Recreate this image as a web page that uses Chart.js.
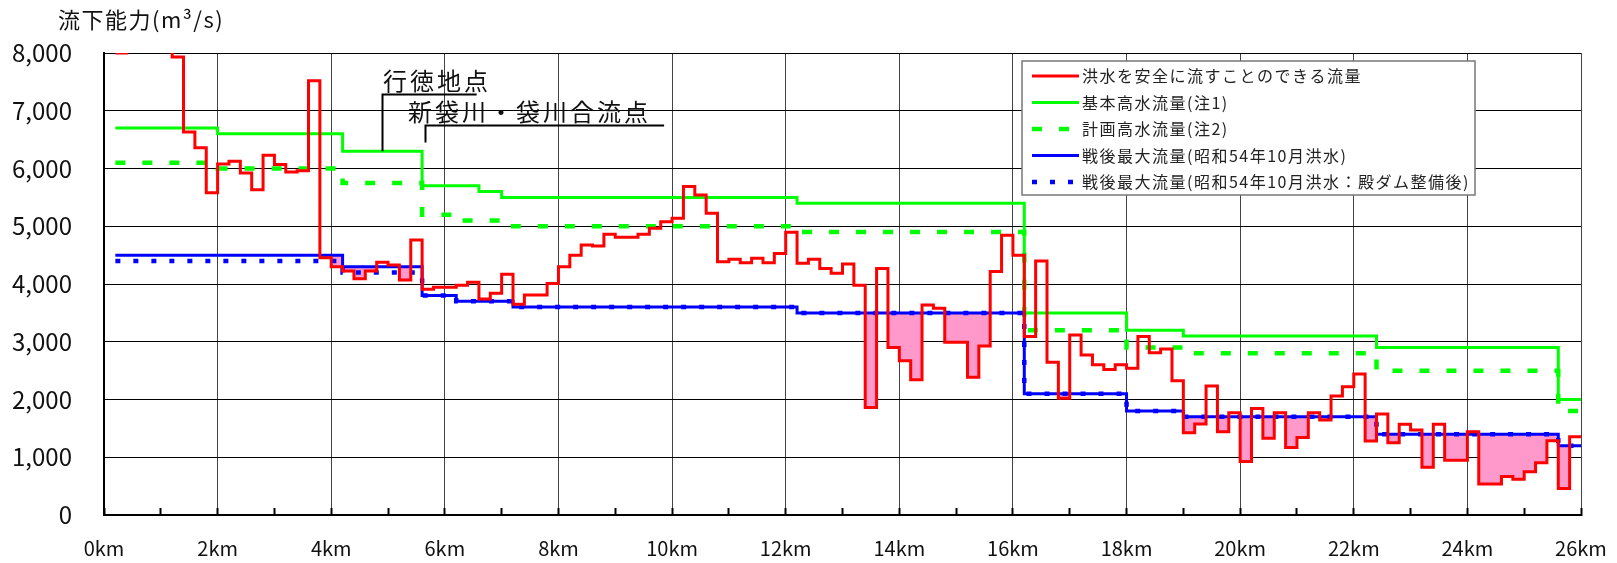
<!DOCTYPE html>
<html lang="ja">
<head>
<meta charset="utf-8">
<title>流下能力</title>
<script src="https://cdn.jsdelivr.net/npm/chart.js@4.4.1/dist/chart.umd.min.js"></script>
<style>
  html, body { margin: 0; padding: 0; background: #fff; }
  #chart { display: block; }
</style>
</head>
<body>
<canvas id="chart" width="1617" height="563"></canvas>
<script>
// 各区間の起点(km)とその区間の流量(m3/s)。最後の点は終点26km
const safeKm = [0.2, 0.4, 1.2, 1.4, 1.6, 1.8, 2.0, 2.2, 2.4, 2.6, 2.8, 3.0, 3.2, 3.4, 3.6, 3.8,
  4.0, 4.2, 4.4, 4.6, 4.8, 5.0, 5.2, 5.4, 5.6, 5.8, 6.2, 6.4, 6.6, 6.8, 7.0, 7.2, 7.4, 7.8,
  8.0, 8.2, 8.4, 8.6, 8.8, 9.0, 9.4, 9.6, 9.8, 10.0, 10.2, 10.4, 10.6, 10.8, 11.0, 11.2, 11.4,
  11.6, 11.8, 12.0, 12.2, 12.4, 12.6, 12.8, 13.0, 13.2, 13.4, 13.6, 13.8, 14.0, 14.2, 14.4,
  14.6, 14.8, 15.2, 15.4, 15.6, 15.8, 16.0, 16.2, 16.4, 16.6, 16.8, 17.0, 17.2, 17.4, 17.6,
  17.8, 18.0, 18.2, 18.4, 18.6, 18.8, 19.0, 19.2, 19.4, 19.6, 19.8, 20.0, 20.2, 20.4, 20.6,
  20.8, 21.0, 21.2, 21.4, 21.6, 21.8, 22.0, 22.2, 22.4, 22.6, 22.8, 23.0, 23.2, 23.4, 23.6,
  24.0, 24.2, 24.6, 24.8, 25.0, 25.2, 25.4, 25.6, 25.8, 26.0];
const safeFlow = [8000, 9000, 7930, 6630, 6360, 5580, 6080, 6125, 5920, 5630, 6230, 6070, 5940, 5960, 7520, 4455,
  4300, 4225, 4090, 4225, 4375, 4330, 4070, 4760, 3910, 3945, 3980, 4030, 3740, 3840, 4170, 3650, 3810, 4010,
  4300, 4500, 4675, 4660, 4860, 4810, 4860, 4965, 5080, 5140, 5690, 5540, 5225, 4385, 4430, 4370, 4445,
  4370, 4530, 4895, 4360, 4430, 4270, 4185, 4345, 3980, 1860, 4270, 2900, 2670, 2340, 3635,
  3580, 2990, 2385, 2925, 4215, 4845, 4500, 3090, 4400, 2645, 2020, 3115, 2770, 2600, 2520,
  2600, 2540, 3090, 2810, 2875, 2325, 1425, 1575, 2235, 1440, 1770, 925, 1845, 1330, 1770,
  1170, 1340, 1770, 1645, 2060, 2220, 2440, 1280, 1750, 1250, 1570, 1470, 825, 1570, 950,
  1440, 535, 665, 620, 750, 905, 1285, 460, 1355, 1355];

const basicKm = [0.2, 2.0, 4.2, 5.6, 6.6, 7.0, 12.2, 16.2, 18.0, 19.0, 22.4, 25.6, 26.0];
const basicFlow = [6700, 6600, 6300, 5700, 5600, 5500, 5400, 3500, 3200, 3100, 2900, 2000, 2000];

const planKm = [0.2, 2.0, 4.2, 5.6, 6.2, 7.2, 12.2, 16.2, 18.0, 19.0, 22.4, 25.6, 26.0];
const planFlow = [6100, 6000, 5750, 5200, 5100, 5000, 4900, 3200, 2900, 2800, 2500, 1800, 1800];

const maxKm = [0.2, 4.2, 5.6, 6.2, 7.2, 12.2, 16.2, 18.0, 19.0, 22.4, 25.6, 26.0];
const maxFlow = [4500, 4300, 3800, 3700, 3600, 3500, 2100, 1800, 1700, 1400, 1200, 1200];

const damKm = [0.2, 4.2, 5.6, 6.2, 7.2, 12.2, 16.2, 18.0, 19.0, 22.4, 25.6, 26.0];
const damFlow = [4400, 4200, 3800, 3700, 3600, 3500, 2100, 1800, 1700, 1400, 1200, 1200];

const seriesNames = [
  '洪水を安全に流すことのできる流量',
  '基本高水流量(注1)',
  '計画高水流量(注2)',
  '戦後最大流量(昭和54年10月洪水)',
  '戦後最大流量(昭和54年10月洪水：殿ダム整備後)'
];

const yTitle = '流下能力(m³/s)';
// 1kmごとの目盛り、ラベルは2kmごと
const kmTicks = Array.from({ length: 27 }, (_, i) => i);

// 地点名の注記 (引出線の位置はkmと流量で指定)
const markNames = ['行徳地点', '新袋川・袋川合流点'];
const markKm = [4.89, 5.65];
const markTextKm = [4.91, 5.35];
const markLineEndKm = [6.56, 9.86];
const markTop = [7285, 6750];
const markFoot = [6300, 6450];

const FONT = '"Noto Sans CJK JP", "Noto Sans", sans-serif';
Chart.defaults.font.family = FONT;
Chart.defaults.color = '#111';

const steps = (km, flow) => km.map((x, i) => ({ x, y: flow[i] }));

const overlay = {
  id: 'overlay',
  afterDraw(chart) {
    const { ctx, chartArea, scales: { x, y } } = chart;
    ctx.save();

    // 縦軸タイトル
    ctx.font = '22px ' + FONT;
    ctx.letterSpacing = '1.5px';
    ctx.fillStyle = '#111';
    ctx.textBaseline = 'middle';
    ctx.textAlign = 'left';
    ctx.fillText(yTitle, chartArea.left - 46, chartArea.top - 33);

    // 地点の注記
    ctx.font = '24px ' + FONT;
    ctx.letterSpacing = '3px';
    ctx.strokeStyle = '#000';
    ctx.lineWidth = 2;
    markNames.forEach((name, i) => {
      const px = Math.round(x.getPixelForValue(markKm[i])) + 0.5;
      const top = Math.round(y.getPixelForValue(markTop[i])) + 0.5;
      const foot = y.getPixelForValue(markFoot[i]);
      ctx.beginPath();
      ctx.moveTo(px, foot);
      ctx.lineTo(px, top);
      ctx.lineTo(x.getPixelForValue(markLineEndKm[i]), top);
      ctx.stroke();
      ctx.fillText(name, x.getPixelForValue(markTextKm[i]), top - 14);
    });

    // 凡例
    const box = { left: chartArea.right - 559, top: chartArea.top + 8, width: 453, height: 134 };
    ctx.fillStyle = '#fff';
    ctx.fillRect(box.left, box.top, box.width, box.height);
    ctx.strokeStyle = '#777';
    ctx.lineWidth = 1.5;
    ctx.strokeRect(box.left, box.top, box.width, box.height);
    ctx.font = '16px ' + FONT;
    ctx.letterSpacing = '1.5px';
    chart.data.datasets.forEach((ds, i) => {
      const cy = box.top + 15 + i * 26.5;
      ctx.beginPath();
      ctx.setLineDash(ds.borderDash || []);
      ctx.strokeStyle = ds.borderColor;
      ctx.lineWidth = ds.borderWidth;
      ctx.moveTo(box.left + 10, cy);
      ctx.lineTo(box.left + 57, cy);
      ctx.stroke();
      ctx.setLineDash([]);
      ctx.fillStyle = '#222';
      ctx.fillText(ds.label, box.left + 60, cy);
    });

    ctx.restore();
  }
};

new Chart(document.getElementById('chart'), {
  type: 'line',
  data: {
    datasets: [
      {
        label: seriesNames[0],
        data: steps(safeKm, safeFlow),
        borderColor: '#ff0000',
        borderWidth: 3,
        stepped: true,
        pointRadius: 0,
        order: 0,
        fill: { target: 3, above: 'rgba(0,0,0,0)', below: '#ff99cc' }
      },
      {
        label: seriesNames[1],
        data: steps(basicKm, basicFlow),
        borderColor: '#00ff00',
        borderWidth: 3,
        stepped: true,
        pointRadius: 0,
        order: 4,
        fill: false
      },
      {
        label: seriesNames[2],
        data: steps(planKm, planFlow),
        borderColor: '#00ff00',
        borderWidth: 4.5,
        borderDash: [10, 17],
        stepped: true,
        pointRadius: 0,
        order: 3,
        fill: false
      },
      {
        label: seriesNames[3],
        data: steps(maxKm, maxFlow),
        borderColor: '#0000ff',
        borderWidth: 3,
        stepped: true,
        pointRadius: 0,
        order: 2,
        fill: false
      },
      {
        label: seriesNames[4],
        data: steps(damKm, damFlow),
        borderColor: '#0000ff',
        borderWidth: 4.5,
        borderDash: [5, 13],
        stepped: true,
        pointRadius: 0,
        order: 1,
        fill: false
      }
    ]
  },
  options: {
    responsive: false,
    animation: false,
    layout: { padding: { top: 53, left: 0, right: 36, bottom: 3 } },
    plugins: {
      legend: { display: false },
      tooltip: { enabled: false },
      filler: { drawTime: 'beforeDatasetsDraw' }
    },
    scales: {
      x: {
        type: 'linear',
        min: 0,
        max: 26,
        afterBuildTicks: (axis) => { axis.ticks = kmTicks.map(v => ({ value: v })); },
        afterFit: (axis) => {
          axis.height = 45;
          axis.paddingLeft = 0;
          axis.paddingRight = 0;
        },
        ticks: {
          padding: 28,
          autoSkip: false,
          maxRotation: 0,
          font: { size: 20 },
          color: '#111',
          callback: (v) => (v % 2 ? '' : v + 'km')
        },
        grid: {
          color: (c) => (c.tick && c.tick.value % 2 ? 'rgba(0,0,0,0)' : '#444'),
          lineWidth: 1,
          drawTicks: true,
          tickLength: -7,
          tickWidth: 2,
          tickColor: '#000'
        },
        border: { color: '#000', width: 2 }
      },
      y: {
        min: 0,
        max: 8000,
        afterFit: (axis) => { axis.width = 104; },
        ticks: {
          stepSize: 1000,
          padding: 32,
          font: { size: 24 },
          color: '#111',
          callback: (v) => v.toLocaleString('en-US')
        },
        grid: { color: '#000', lineWidth: 1, drawTicks: false },
        border: { color: '#000', width: 2 }
      }
    }
  },
  plugins: [overlay]
});
</script>
</body>
</html>
